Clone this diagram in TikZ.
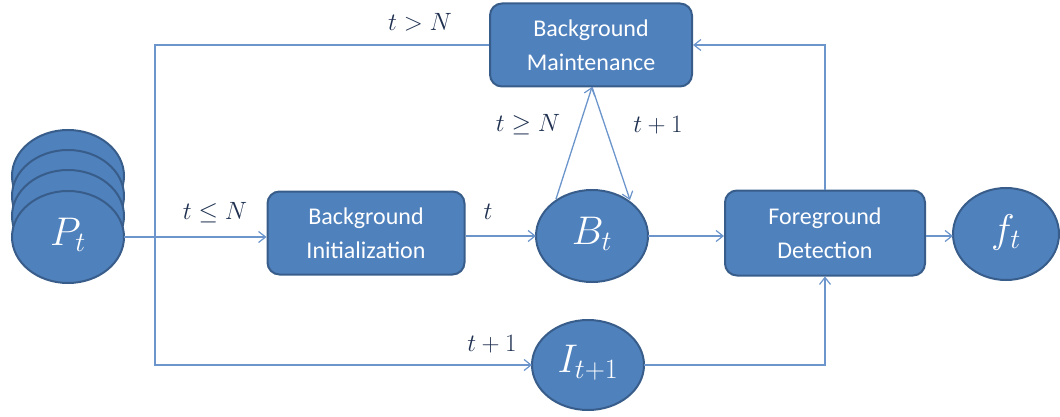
\RequirePackage{fix-cm}
\documentclass[tikz,border=0pt]{standalone}
\usepackage{fontspec}
\setmainfont{Carlito}
\usetikzlibrary{arrows.meta}
\definecolor{fillb}{HTML}{4F81BD}
\definecolor{edgeb}{HTML}{385D8A}
\definecolor{lineb}{HTML}{6B95CB}
\definecolor{labc}{HTML}{1F3050}
\tikzset{
  proc/.style={draw=edgeb, fill=fillb, line width=2pt, rounded corners=12pt, text=white,
    font=\fontsize{24}{34}\selectfont, align=center, inner sep=0pt},
  elltext/.style={text=white, font=\fontsize{40}{46}\selectfont},
  conn/.style={draw=lineb, line width=1.3pt},
  arr/.style={conn, -{Straight Barb[length=7pt, width=11pt, line width=1.2pt]}},
  lab/.style={text=labc, font=\fontsize{25}{28}\selectfont}
}
\begin{document}
\begin{tikzpicture}[x=1pt, y=-1pt]
\useasboundingbox (0,0) rectangle (1060,417);
% P_t stack
\foreach \yy in {176,196,216} {
  \draw[draw=edgeb, fill=fillb, line width=2pt] (68,\yy) ellipse [x radius=56, y radius=46];
}
\draw[draw=edgeb, fill=fillb, line width=2pt] (68,237) ellipse [x radius=56, y radius=46];
\node[elltext] (P) at (68,235) {$P_t$};
\coordinate (Pr) at (124,237);

\node[proc, minimum width=197pt, minimum height=83pt] (BI) at (366,233) {Background\\Initialization};
\node[proc, minimum width=202pt, minimum height=83pt] (BM) at (591,45) {Background\\Maintenance};
\node[proc, minimum width=200pt, minimum height=85pt] (FD) at (825,233) {Foreground\\Detection};

\draw[draw=edgeb, fill=fillb, line width=2pt] (592,236) ellipse [x radius=56, y radius=46];
\node[elltext] (B) at (592,234) {$B_t$};
\draw[draw=edgeb, fill=fillb, line width=2pt] (588,365) ellipse [x radius=56, y radius=45];
\node[elltext] (I) at (588,363) {$I_{t+1}$};
\draw[draw=edgeb, fill=fillb, line width=2pt] (1006,234) ellipse [x radius=53, y radius=46];
\node[elltext] (f) at (1006,232) {$f_t$};

\coordinate (Bl) at (536,236);
\coordinate (Br) at (648,236);
\coordinate (Btl) at (556,199);
\coordinate (Btr) at (630,200);
\coordinate (Il) at (532,365);
\coordinate (Ir) at (644,365);
\coordinate (fl) at (953,236);
\coordinate (BMb) at (592,87);
\coordinate (j) at (155,237);

% connectors
\draw[arr] (Pr) -- (BI.west |- Pr);
\draw[conn] (j) -- (155,45) -- (BM.west);
\draw[arr] (j) -- (155,365) -- (Il);
\draw[arr] (BI.east |- Bl) -- (Bl);
\draw[arr] (Btl) -- (BMb);
\draw[arr] (BMb) -- (Btr);
\draw[arr] (Br) -- (FD.west |- Br);
\draw[arr] (FD.north) -- (FD.north |- BM.east) -- (BM.east);
\draw[arr] (Ir) -- (FD.south |- Ir) -- (FD.south);
\draw[arr] (FD.east |- fl) -- (fl);

% labels
\node[lab] (l1) at (215,213) {$t \leq N$};
\node[lab] (l2) at (420,22) {$t > N$};
\node[lab] (l3) at (488,212) {$t$};
\node[lab] (l4) at (528,125) {$t \geq N$};
\node[lab] (l5) at (658,125) {$t+1$};
\node[lab] (l6) at (492,344) {$t+1$};
\end{tikzpicture}
\end{document}
